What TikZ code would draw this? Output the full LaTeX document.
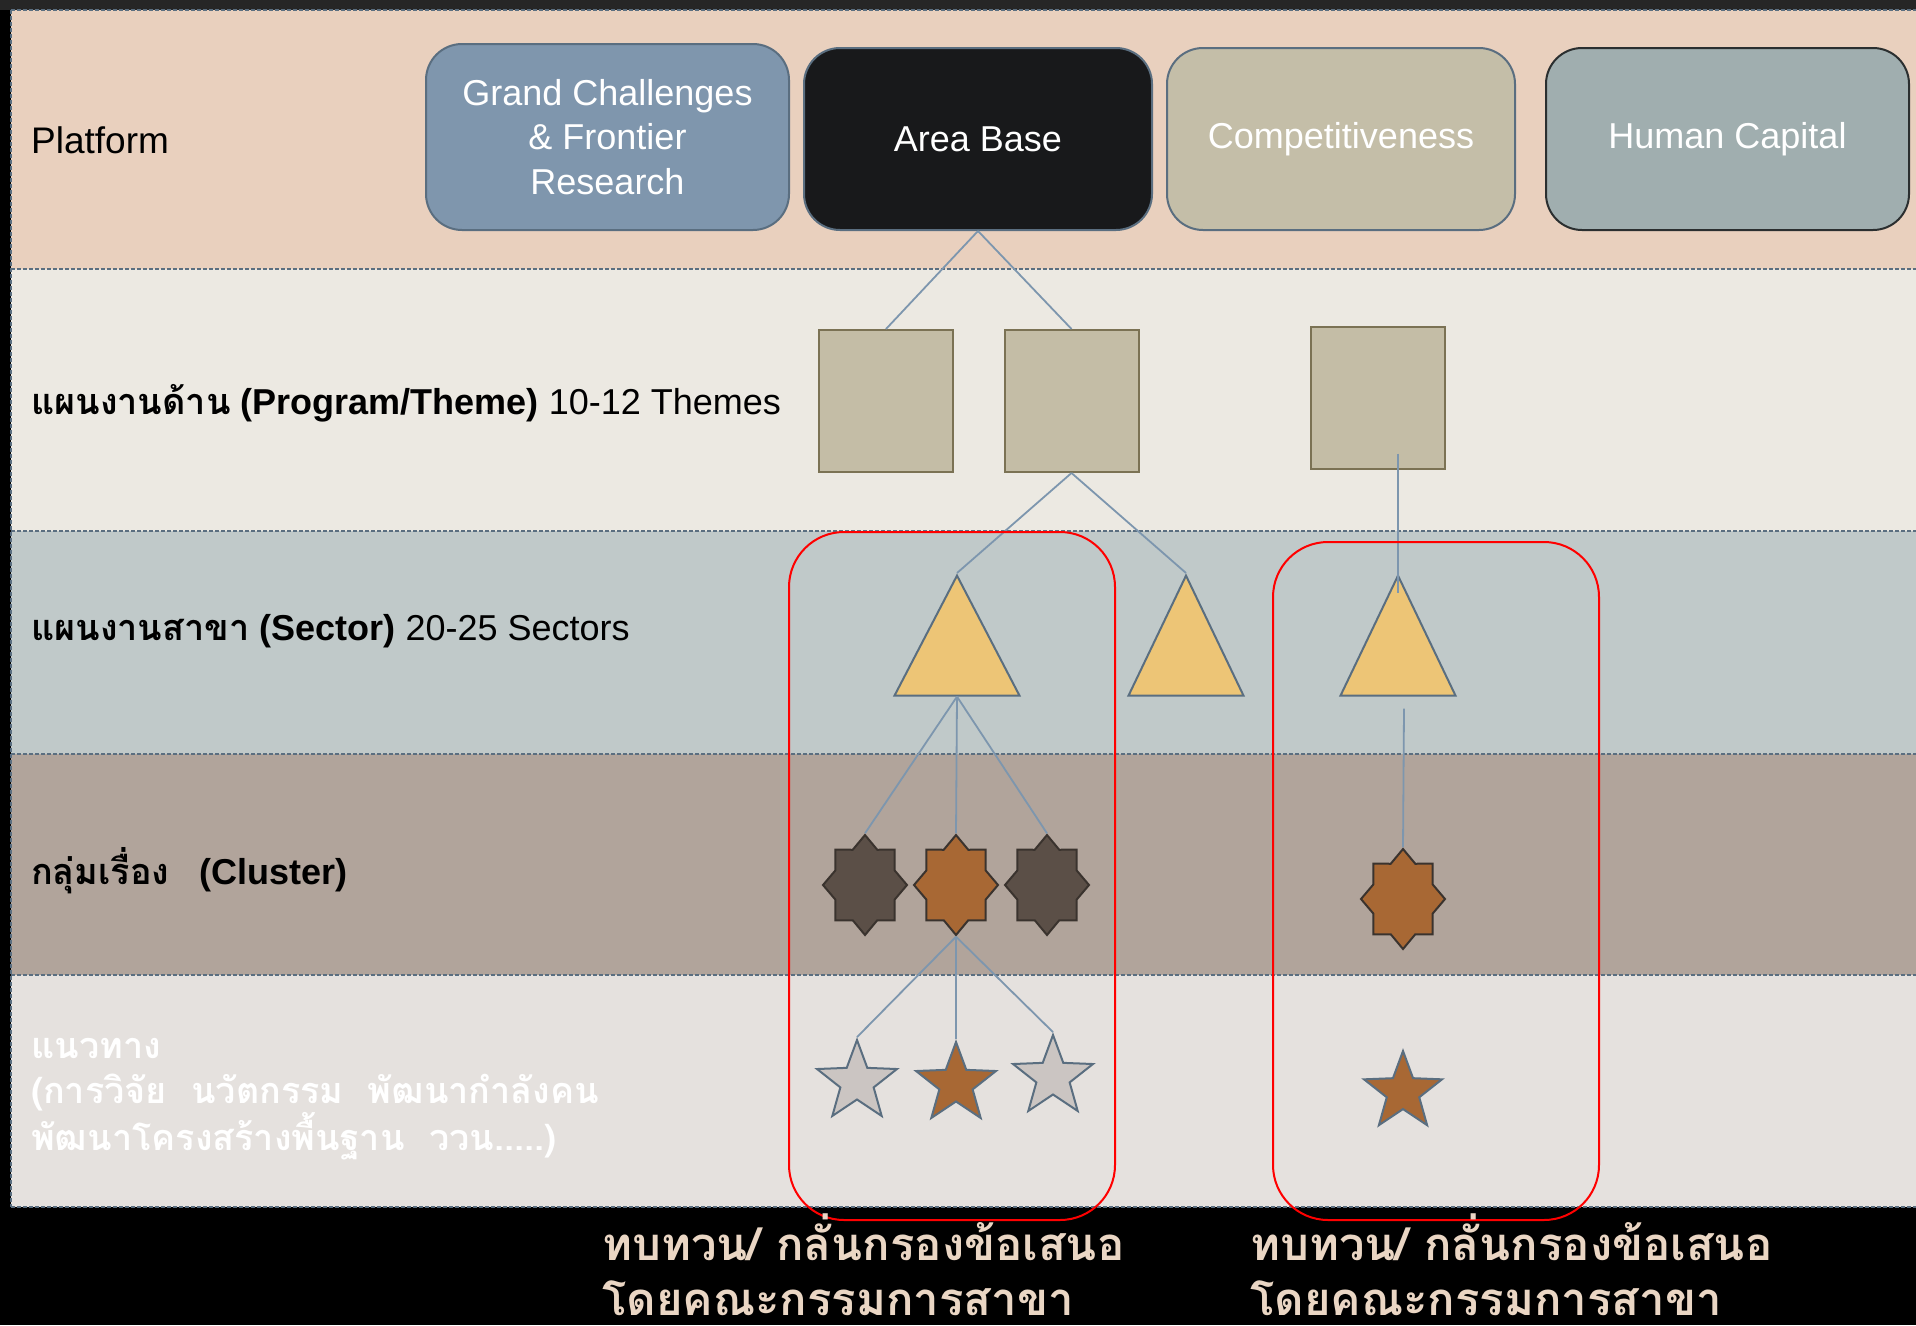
\documentclass[tikz,border=0pt]{standalone}
\usepackage{fontspec}
\setmainfont{Liberation Sans}
\newfontfamily\thai[Script=Thai]{Loma}
\usetikzlibrary{shapes.geometric}

\definecolor{edgeblue}{HTML}{5A6E80}
\definecolor{linkblue}{HTML}{7D96AE}
\definecolor{platformbg}{HTML}{E9D0BE}
\definecolor{themebg}{HTML}{ECE9E2}
\definecolor{sectorbg}{HTML}{C0C9C9}
\definecolor{clusterbg}{HTML}{B1A49B}
\definecolor{approachbg}{HTML}{E5E1DE}
\definecolor{grandfill}{HTML}{7F96AD}
\definecolor{areafill}{HTML}{18191B}
\definecolor{compfill}{HTML}{C4BEA8}
\definecolor{humanfill}{HTML}{A0AEAF}
\definecolor{humanedge}{HTML}{2B2F30}
\definecolor{themefill}{HTML}{C4BDA6}
\definecolor{themeedge}{HTML}{7B7254}
\definecolor{sectorfill}{HTML}{EDC576}
\definecolor{darkfill}{HTML}{5B4F47}
\definecolor{darkedge}{HTML}{3A332E}
\definecolor{brownfill}{HTML}{A86834}
\definecolor{greyfill}{HTML}{CBC5C2}
\definecolor{reviewtext}{HTML}{EAD6C4}

\tikzstyle{divider} = [draw=edgeblue, line width=1.5pt, dash pattern=on 4pt off 2pt]
\tikzstyle{rowtext} = [anchor=west, inner sep=0pt, align=left, font=\fontsize{36}{45}\selectfont]
\tikzstyle{platform} = [rectangle, rounded corners=36pt, draw=edgeblue, line width=2pt, text=white, align=center, minimum height=182pt, font=\fontsize{36}{44.5}\selectfont]
\tikzstyle{theme} = [rectangle, draw=themeedge, fill=themefill, line width=2pt, minimum width=134pt, minimum height=142pt]
\tikzstyle{sector} = [isosceles triangle, shape border rotate=90, isosceles triangle stretches, minimum width=115pt, minimum height=120pt, inner sep=0pt, fill=sectorfill, draw=edgeblue, line width=2pt, anchor=apex]
\tikzstyle{cluster} = [star, star points=8, star point ratio=1.31, minimum size=84pt, inner sep=0pt, line width=2pt, draw=darkedge, yscale=1.19, transform shape]
\tikzstyle{approach} = [star, star points=5, star point ratio=2.4, minimum size=84pt, inner sep=0pt, line width=2pt, draw=edgeblue]
\tikzstyle{link} = [draw=linkblue, line width=1.8pt]
\tikzstyle{review} = [rectangle, draw=red, line width=2pt, rounded corners=55pt, minimum width=326pt]
\tikzstyle{reviewnote} = [anchor=west, inner sep=0pt, align=left, text=reviewtext, font=\thai\bfseries\fontsize{45.5}{55}\selectfont]

\begin{document}
\begin{tikzpicture}[x=1pt, y=-1pt]

    \useasboundingbox (0,0) rectangle (1916,1325);
    \fill [black] (0,0) rectangle (1916,1325);
    \fill [black!85] (0,0) rectangle (1916,10);

    % Row bands
    \fill [platformbg] (11,10) rectangle (1916,269);
    \fill [themebg] (11,269) rectangle (1916,531);
    \fill [sectorbg] (11,531) rectangle (1916,754);
    \fill [clusterbg] (11,754) rectangle (1916,975);
    \fill [approachbg] (11,975) rectangle (1916,1207);
    \draw [divider] (11,10) -- (1916,10);
    \draw [divider] (11,269) -- (1916,269);
    \draw [divider] (11,531) -- (1916,531);
    \draw [divider] (11,754) -- (1916,754);
    \draw [divider] (11,975) -- (1916,975);
    \draw [divider] (11,1207) -- (1916,1207);
    \draw [divider] (11,10) -- (11,1207);

    % Row labels
    \node (platform_lbl) [rowtext, font=\fontsize{37}{45}\selectfont] at (31,140) {Platform};
    \node (theme_lbl) [rowtext] at (31,403) {{\thai\bfseries แผนงานด้าน} \textbf{(Program/Theme)} 10-12 Themes};
    \node (sector_lbl) [rowtext] at (31,631) {{\thai\bfseries แผนงานสาขา} \textbf{(Sector)} 20-25 Sectors};
    \node (cluster_lbl) [rowtext] at (31,871) {{\thai\bfseries กลุ่มเรื่อง}~~~\textbf{(Cluster)}};
    \node (approach_lbl) [rowtext, text=white, font=\thai\bfseries\fontsize{36}{45}\selectfont] at (31,1099) {แนวทาง\\(การวิจัย~~นวัตกรรม~~พัฒนากำลังคน\\พัฒนาโครงสร้างพื้นฐาน~~ววน.....)};

    % Platforms
    \node (grand) [platform, fill=grandfill, minimum width=363pt, minimum height=186pt] at (607.5,137) {Grand Challenges\\\& Frontier\\Research};
    \node (area) [platform, fill=areafill, minimum width=348pt] at (978,139) {Area Base};
    \node (comp) [platform, fill=compfill, minimum width=348pt] at (1341,139) {Competitiveness};
    \node (human) [platform, fill=humanfill, draw=humanedge, minimum width=363pt] at (1727.5,139) {Human Capital};

    % Programs / themes
    \node (th1) [theme] at (886,401) {};
    \node (th2) [theme] at (1071.5,401) {};
    \node (th3) [theme] at (1377.5,397.5) {};

    % Sectors
    \node (sec1) [sector, minimum width=125pt] at (957,573) {};
    \node (sec2) [sector] at (1186,573) {};
    \node (sec3) [sector] at (1398,573) {};

    % Clusters
    \node (clu1) [cluster, fill=darkfill] at (865,885) {};
    \node (clu2) [cluster, fill=brownfill] at (956,885) {};
    \node (clu3) [cluster, fill=darkfill] at (1047,885) {};
    \node (clu4) [cluster, fill=brownfill] at (1403,899) {};

    % Approaches
    \node (app1) [approach, fill=greyfill] at (857,1082) {};
    \node (app2) [approach, fill=brownfill] at (956,1084) {};
    \node (app3) [approach, fill=greyfill] at (1053,1077) {};
    \node (app4) [approach, fill=brownfill, minimum size=82pt] at (1403,1092) {};

    % ==== Links
    \draw [link] (area.south) -- (th1.north);
    \draw [link] (area.south) -- (th2.north);
    \draw [link] (th2.south) -- (sec1.apex);
    \draw [link] (th2.south) -- (sec2.apex);
    \draw [link] ([yshift=16pt]sec3.apex |- th3.south) -- ([yshift=-20pt]sec3.apex);
    \draw [link] (sec1.lower side) -- (clu1.north);
    \draw [link] (sec1.lower side) -- (clu2.north);
    \draw [link] (sec1.lower side) -- (clu3.north);
    \draw [link] ([xshift=6pt, yshift=-12pt]sec3.lower side) -- (clu4.north);
    \draw [link] (clu2.south) -- (app1.north);
    \draw [link] (clu2.south) -- (app2.north);
    \draw [link] (clu2.south) -- (app3.north);

    % Review committees
    \node (rev1) [review, minimum height=688pt] at (952,876) {};
    \node (rev2) [review, minimum height=678pt] at (1436,881) {};
    \node (rev1_txt) [reviewnote] at (602,1265) {ทบทวน/ กลั่นกรองข้อเสนอ\\โดยคณะกรรมการสาขา};
    \node (rev2_txt) [reviewnote] at (1250,1265) {ทบทวน/ กลั่นกรองข้อเสนอ\\โดยคณะกรรมการสาขา};

\end{tikzpicture}
\end{document}
